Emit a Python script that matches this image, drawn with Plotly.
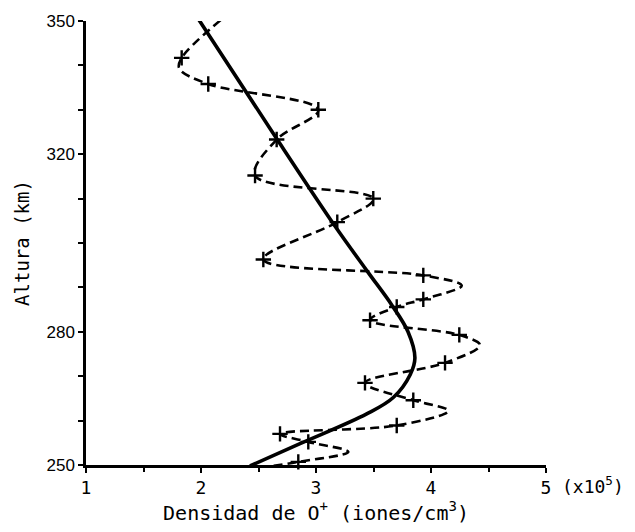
import plotly.graph_objects as go

# Solid curve (model profile)
solid_x = [1.948, 2.620, 3.160, 3.450, 3.660, 3.800, 3.860, 3.820, 3.672, 3.441, 2.861, 2.426]
solid_y = [351.6, 325.0, 304.0, 293.5, 286.0, 280.0, 274.1, 270.4, 265.2, 261.5, 254.8, 249.8]

# Dashed curve (measured profile), including turning points of the loops
dash_x = [2.171, 1.832, 1.811, 2.063, 3.020, 2.658, 2.470, 3.498, 3.185, 2.542, 3.933, 4.267, 3.933, 3.702,
          3.470, 4.246, 4.426, 4.122, 3.426, 3.846, 4.150, 3.702, 2.687, 2.933, 3.281, 2.846, 2.498]
dash_y = [350.2, 341.7, 339.3, 335.8, 330.0, 323.3, 315.2, 310.0, 304.7, 296.3, 292.7, 290.4, 287.3, 285.6,
          282.6, 279.3, 277.0, 273.0, 268.5, 264.6, 262.2, 258.9, 257.0, 255.2, 252.96, 250.7, 249.3]

# Measured points (crosses)
pts_x = [2.171, 1.832, 2.063, 3.020, 2.658, 2.470, 3.498, 3.185, 2.542, 3.933, 3.933, 3.702, 3.470,
         4.246, 4.122, 3.426, 3.846, 3.702, 2.687, 2.933, 2.846, 2.498, 1.452]
pts_y = [350.2, 341.7, 335.8, 330.0, 323.3, 315.2, 310.0, 304.7, 296.3, 292.7, 287.3, 285.6, 282.6,
         279.3, 273.0, 268.5, 264.6, 258.9, 257.0, 255.2, 250.7, 249.3, 248.9]

x_ticks = [1, 2, 3, 4, 5]
x_minor = [1.5, 2.5, 3.5, 4.5]
y_ticks = [250, 280, 320, 350]
y_minor = [260, 270, 290, 300, 310, 330, 340]

fig = go.Figure()
fig.add_trace(go.Scatter(x=dash_x, y=dash_y, mode="lines",
                         line=dict(color="black", width=2.6, dash="9px,5px", shape="spline", smoothing=1.0),
                         hoverinfo="skip"))
fig.add_trace(go.Scatter(x=solid_x, y=solid_y, mode="lines",
                         line=dict(color="black", width=3.6, shape="spline", smoothing=1.0)))
fig.add_trace(go.Scatter(x=pts_x, y=pts_y, mode="markers", cliponaxis=False,
                         marker=dict(symbol="cross-thin", size=11, color="black",
                                     line=dict(color="black", width=2.4))))

fig.update_layout(
    width=635, height=532, autosize=False,
    margin=dict(l=86, r=89, t=15, b=67),
    plot_bgcolor="white", paper_bgcolor="white",
    showlegend=False,
)

fig.update_xaxes(
    range=[1, 5], tickvals=x_ticks, ticktext=[str(v) for v in x_ticks],
    showline=True, linecolor="black", linewidth=2.5, showgrid=False, zeroline=False,
    ticks="outside", ticklen=5, tickwidth=2, tickcolor="black",
    minor=dict(tickvals=x_minor, ticks="outside", ticklen=4, tickwidth=2, tickcolor="black"),
    tickfont=dict(family="DejaVu Sans Mono", size=18, color="black"),
    title=dict(text="Densidad de O<sup>+</sup> (iones/cm<sup>3</sup>)",
               font=dict(family="DejaVu Sans Mono", size=20, color="black"), standoff=8),
)
fig.update_yaxes(
    range=[250, 350], tickvals=y_ticks, ticktext=[str(v) for v in y_ticks],
    showline=True, linecolor="black", linewidth=2.5, showgrid=False, zeroline=False,
    ticks="outside", ticklen=5, tickwidth=2, tickcolor="black",
    minor=dict(tickvals=y_minor, ticks="outside", ticklen=5, tickwidth=2, tickcolor="black"),
    tickfont=dict(family="Liberation Sans", size=17, color="black"),
    title=dict(text="Altura (km)", font=dict(family="DejaVu Sans Mono", size=19, color="black"), standoff=12),
)

fig.add_annotation(text="(x10<sup>5</sup>)", xref="x", yref="y", x=5, y=250,
                   xanchor="left", yanchor="top", xshift=14, yshift=-6, showarrow=False,
                   font=dict(family="DejaVu Sans Mono", size=18, color="black"))

fig.write_html("out.html")
